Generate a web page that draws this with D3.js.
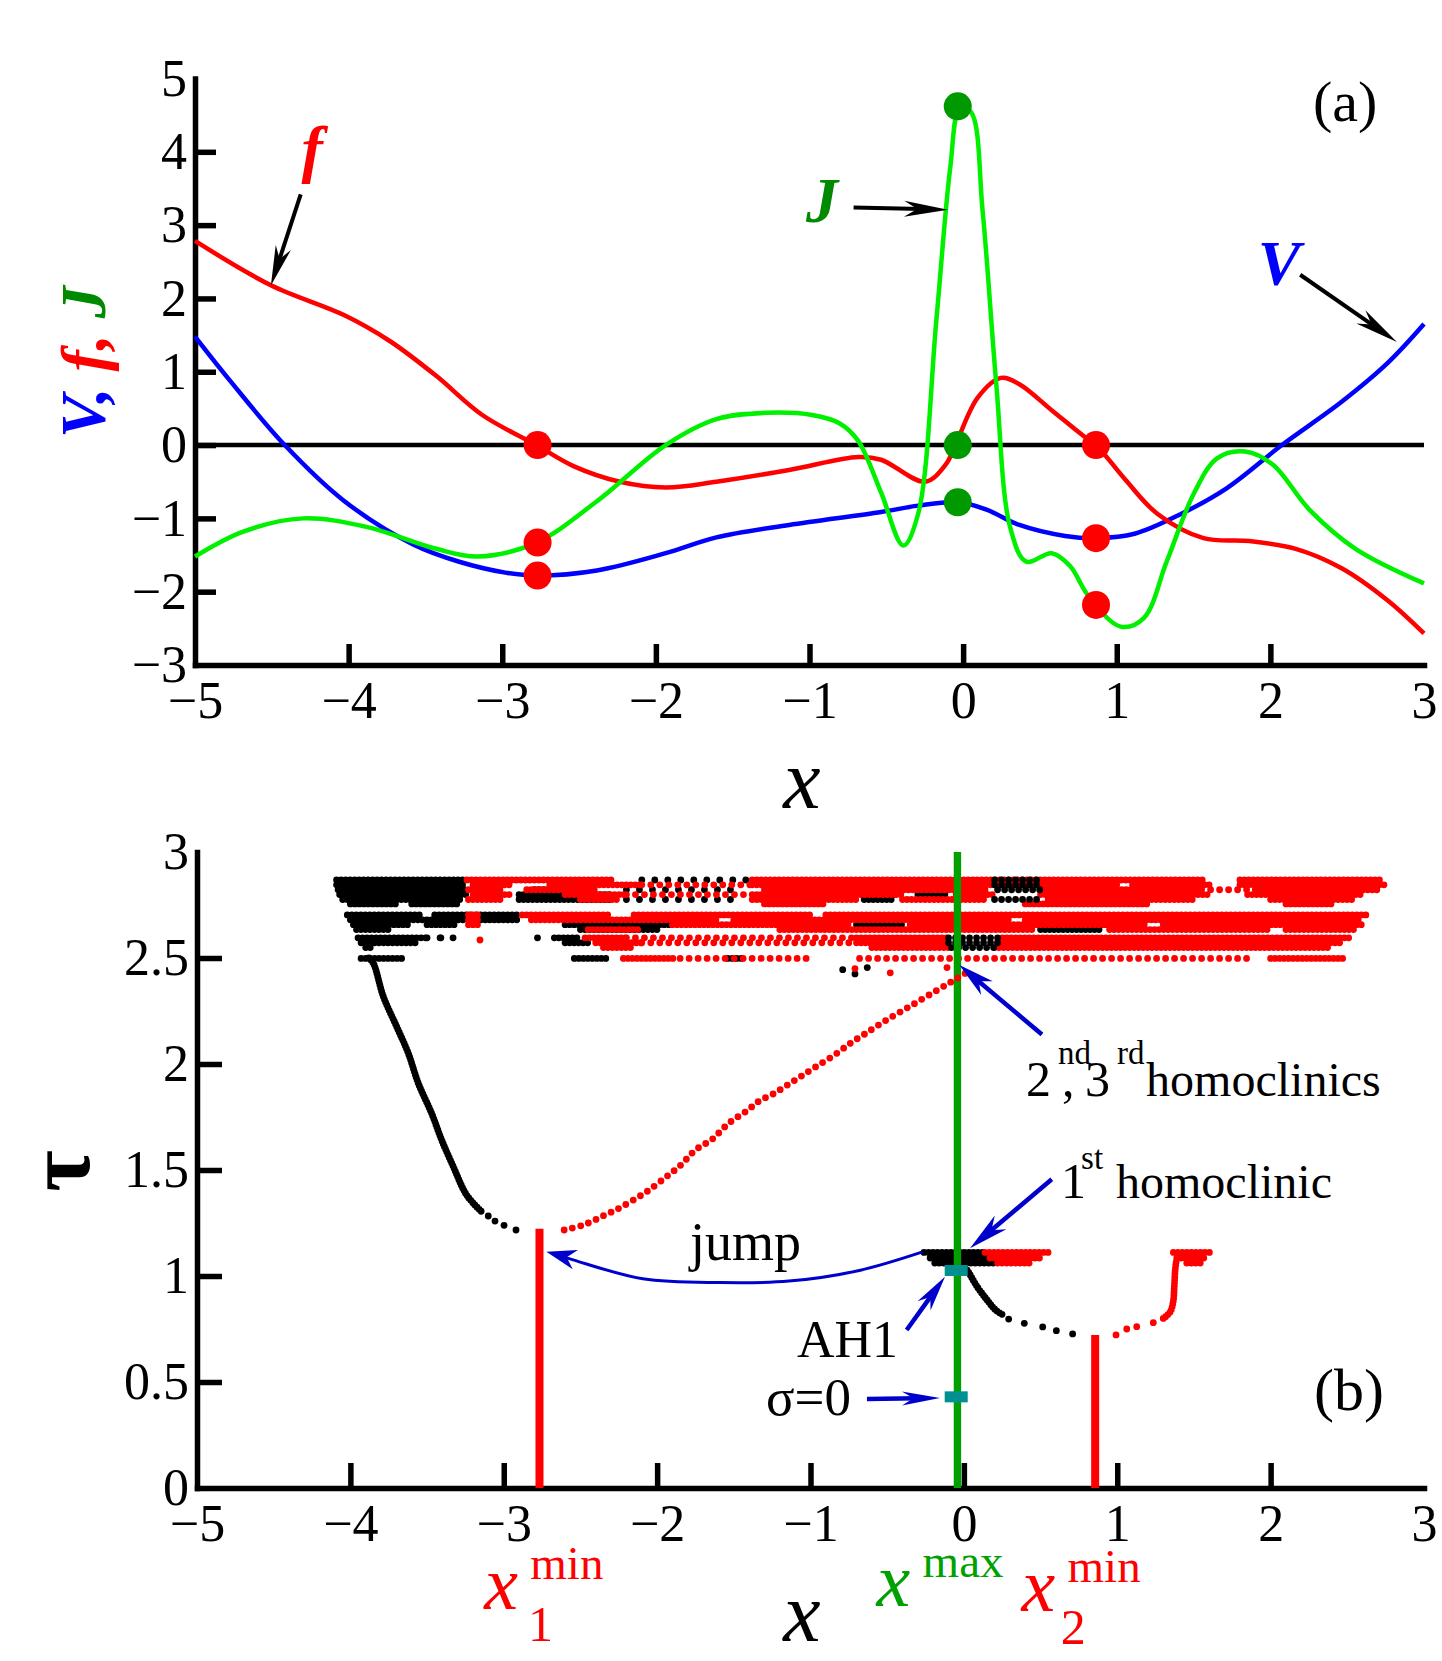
<!DOCTYPE html>
<html>
<head>
<meta charset="utf-8">
<script src="https://cdn.jsdelivr.net/npm/d3@7"></script>
<style>
  body { margin: 0; background: #fff; }
</style>
</head>
<body>
<div id="chart"></div>
<script>
const W = 1442, H = 1661;
const FONT = "'Liberation Serif', 'Times New Roman', serif";

// ---------- panel (a) data ----------
const xTicks = [-5, -4, -3, -2, -1, 0, 1, 2, 3];
const yTicksA = [-3, -2, -1, 0, 1, 2, 3, 4, 5];

const vCurve = [[-5,1.48],[-4.775,0.886],[-4.416,0],[-4.027,-0.766],[-3.58,-1.356],[-3.28,-1.592],
  [-2.98,-1.74],[-2.778,-1.78],[-2.384,-1.71],[-1.936,-1.475],[-1.606,-1.26],[-1.133,-1.09],
  [-0.534,-0.914],[-0.293,-0.826],[-0.035,-0.778],[0.156,-0.884],[0.366,-1.09],[0.664,-1.24],
  [0.87,-1.27],[1.116,-1.21],[1.415,-0.943],[1.715,-0.59],[2.075,0],[2.464,0.59],[2.764,1.12],[3.0,1.65]];

const fCurve = [[-5,2.785],[-4.506,2.18],[-4.027,1.77],[-3.73,1.416],[-3.43,0.944],[-3.13,0.41],
  [-2.778,0],[-2.533,-0.29],[-2.234,-0.5],[-1.936,-0.578],[-1.606,-0.5],[-1.133,-0.34],
  [-0.684,-0.163],[-0.534,-0.2],[-0.248,-0.5],[-0.113,-0.265],[-0.039,0.06],[0.096,0.65],
  [0.246,0.916],[0.366,0.83],[0.576,0.476],[0.786,0.12],[0.865,0],[1.055,-0.47],[1.266,-0.94],
  [1.565,-1.27],[1.865,-1.31],[2.165,-1.415],[2.464,-1.68],[2.764,-2.12],[3.0,-2.57]];

const jCurve = [[-5,-1.52],[-4.686,-1.18],[-4.297,-1.0],[-3.878,-1.12],[-3.43,-1.415],[-3.16,-1.52],
  [-2.778,-1.33],[-2.384,-0.766],[-1.936,0],[-1.606,0.354],[-1.28,0.44],[-0.983,0.41],
  [-0.803,0.295],[-0.684,0.06],[-0.534,-0.647],[-0.39,-1.37],[-0.293,-0.94],[-0.174,1.71],
  [-0.084,3.78],[-0.02,4.6],[0.052,4.54],[0.127,3.19],[0.216,0.827],[0.306,-1.12],[0.411,-1.59],
  [0.576,-1.475],[0.696,-1.65],[0.816,-2.06],[1.025,-2.476],[1.176,-2.36],[1.325,-1.59],
  [1.505,-0.647],[1.655,-0.177],[1.835,-0.087],[2.015,-0.265],[2.255,-0.884],[2.554,-1.415],[3.0,-1.887]];

const redMarkers = [[-2.77,0],[-2.77,-1.33],[-2.77,-1.78],[0.865,0],[0.865,-1.27],[0.865,-2.18]];
const greenMarkers = [[-0.035,4.62],[-0.035,0],[-0.035,-0.78]];

// ---------- panel (b) data ----------
const yTicksB = [0, 0.5, 1, 1.5, 2, 2.5, 3];

// continuous branches (x, tau)
const blackLeftBranch = [[-3.88,2.50],[-3.850,2.475],[-3.785,2.318],[-3.698,2.176],[-3.622,2.050],
  [-3.557,1.909],[-3.470,1.767],[-3.405,1.642],[-3.329,1.516],[-3.242,1.382],[-3.144,1.303]];
const blackLeftDots = [[-3.101,1.283],[-3.057,1.259],[-2.998,1.239],[-2.920,1.217]];
const redLeftBranch = [[-2.606,1.217],[-2.487,1.239],[-2.415,1.261],[-2.354,1.283],[-2.295,1.303],
  [-2.234,1.325],[-2.14,1.365],[-2.067,1.398],[-1.947,1.464],[-1.845,1.524],[-1.751,1.594],
  [-1.643,1.644],[-1.534,1.72],[-1.414,1.78],[-1.332,1.827],[-1.245,1.858],[-1.153,1.90],
  [-1.066,1.94],[-0.97,1.985],[-0.853,2.038],[-0.74,2.098],[-0.649,2.14],[-0.512,2.204],
  [-0.338,2.278],[-0.142,2.362],[-0.049,2.402],[0.053,2.447]];
const blackRightBranch = [[0.007,1.038],[0.021,1.028],[0.086,0.95],[0.151,0.887],[0.206,0.84],[0.249,0.819]];
const blackRightDots = [[0.292,0.797],[0.394,0.777],[0.514,0.76],[0.603,0.742],[0.709,0.727]];
const redRightDots = [[0.992,0.722],[1.062,0.75],[1.127,0.761],[1.235,0.78]];
const redRightBranch = [[1.30,0.80],[1.345,0.83],[1.365,0.88],[1.372,0.95],[1.378,1.03],[1.385,1.07]];

// horizontal runs of points [x0, x1, tau]
const blackBand = [
  [-4.09,-3.24,2.868],[-4.09,-3.24,2.845],[-4.08,-3.24,2.822],[-2.8,-2.6,2.822],
  [-4.07,-3.24,2.799],[-2.9,-2.3,2.799],[-0.3,-0.1,2.799],
  [-4.05,-3.26,2.776],[-2.9,-2.3,2.776],[-0.65,-0.45,2.776],
  [-4.0,-3.7,2.755],[-3.6,-3.3,2.755],
  [-4.02,-3.55,2.703],[-3.45,-3.21,2.703],[-3.18,-2.9,2.703],
  [-4.0,-3.25,2.680],[-3.15,-2.9,2.680],
  [-3.98,-3.6,2.657],[-3.5,-3.3,2.657],[-2.6,-1.9,2.657],[-0.7,-0.4,2.657],[0.8,1.0,2.657],
  [-3.96,-3.75,2.634],[-2.5,-2.0,2.634],[0.5,0.9,2.634],
  [-3.95,-3.5,2.595],[-2.67,-2.5,2.595],
  [-3.93,-3.55,2.572],[-2.6,-2.45,2.572],[-0.5,-0.3,2.572],
  [-3.9,-3.85,2.549],
  [-3.93,-3.64,2.498],[-2.54,-2.33,2.498],[-1.54,-1.44,2.498],
  [-0.26,0.13,1.111],[-0.22,0.17,1.085],[-0.19,0.22,1.061]];
const blackBandSparse = [[-2.1,-1.4,2.868],[-2.2,-1.5,2.822],[-2.2,-1.5,2.776],[-3.5,-3.3,2.595],
  [-0.63,-0.42,2.80]];
const redBand = [
  [-3.24,-2.3,2.868],[-1.38,1.57,2.868],[1.8,2.71,2.868],
  [-3.2,-2.95,2.845],[-2.7,-2.1,2.845],[-1.38,1.0,2.845],[1.1,1.6,2.845],[1.8,2.76,2.845],
  [-3.23,-3.0,2.822],[-2.85,-2.4,2.822],[-1.3,0.15,2.822],[0.5,1.55,2.822],[1.9,2.7,2.822],
  [-3.2,-2.95,2.799],[-2.6,-2.2,2.799],[-1.38,-0.4,2.799],[-0.05,0.2,2.799],[0.5,1.6,2.799],[1.85,2.6,2.799],
  [-3.23,-3.0,2.776],[-2.5,-2.25,2.776],[-1.38,-0.7,2.776],[-0.4,0.15,2.776],[0.55,1.5,2.776],[2.0,2.55,2.776],
  [-1.3,-0.9,2.755],[0.4,1.2,2.755],[2.1,2.4,2.755],
  [-3.23,-3.17,2.703],[-2.88,-2.3,2.703],[-2.15,-1.0,2.703],[-0.9,2.645,2.703],
  [-3.23,-3.17,2.680],[-2.82,-1.6,2.680],[-1.5,0.3,2.680],[0.4,2.6,2.680],
  [-3.23,-3.17,2.657],[-1.9,-0.75,2.657],[-0.35,1.2,2.657],[1.3,2.62,2.657],
  [-2.45,-2.1,2.634],[-1.2,0.45,2.634],[0.95,2.0,2.634],[2.1,2.55,2.634],
  [-2.47,-2.2,2.595],[-0.7,-0.1,2.595],[0.25,2.51,2.595],
  [-2.4,-2.1,2.572],[-0.7,-0.1,2.572],[0.22,2.45,2.572],
  [-2.35,-2.15,2.549],[-0.6,-0.1,2.549],[0.2,2.4,2.549],
  [-2.22,-1.89,2.498],[2.0,2.47,2.498],
  [0.138,0.572,1.111],[0.17,0.496,1.085],[0.22,0.45,1.061],
  [1.366,1.626,1.111],[1.388,1.572,1.085],[1.453,1.56,1.061]];
const redBandSparse = [[-2.1,-1.38,2.845],[-2.2,-1.38,2.799],[1.55,1.9,2.822],[-2.2,-0.7,2.595],
  [-2.1,-0.7,2.572],[-1.85,-1.0,2.498],[-0.68,1.85,2.498]];
const blackBandTop = [[0.2,0.5,2.868],[0.2,0.48,2.845],[0.22,0.5,2.822],[0.2,0.5,2.776],
  [-0.1,0.25,2.595],[-0.1,0.22,2.572],[-0.08,0.2,2.549]];
const blackSpots = [[-0.79,2.445],[-0.71,2.425],[-0.63,2.455],[-2.78,2.595],[-3.41,2.595]];
const redSpots = [[-0.71,2.45],[-0.48,2.43],[-0.11,2.455],[-3.155,2.585]];

const xMaxLine = -0.042, x1Min = -2.767, x2Min = 0.856;
const x1MinTop = 1.223, x2MinTop = 0.722;
const ah1Point = [-0.05, 1.026], sigmaZeroPoint = [-0.05, 0.43];

// ---------- scales ----------
const xA = d3.scaleLinear().domain([-5, 3]).range([195, 1424]);
const yA = d3.scaleLinear().domain([-3, 5]).range([665, 78.5]);
const xB = d3.scaleLinear().domain([-5, 3]).range([197, 1424]);
const yB = d3.scaleLinear().domain([0, 3]).range([1488, 852]);

const svg = d3.select('#chart').append('svg')
  .attr('width', W).attr('height', H)
  .style('display', 'block').style('background', '#fff');

function drawAxes(xs, ys, yTicks, yFmt, tickLen) {
  let gx = svg.append('g')
    .attr('transform', `translate(0,${ys.range()[0]})`)
    .call(d3.axisBottom(xs).tickValues(xTicks).tickFormat(d3.format('d'))
      .tickSizeInner(-tickLen).tickSizeOuter(0).tickPadding(16));
  let gy = svg.append('g')
    .attr('transform', `translate(${xs.range()[0]},0)`)
    .call(d3.axisLeft(ys).tickValues(yTicks).tickFormat(yFmt)
      .tickSizeInner(-tickLen).tickSizeOuter(0).tickPadding(8));
  [gx, gy].forEach(g => {
    g.attr('font-family', FONT).attr('font-size', 52);
    g.select('.domain').attr('stroke-width', 5.5).attr('stroke-linecap', 'square');
    g.selectAll('.tick line').attr('stroke-width', 5.5);
    g.selectAll('.tick text').attr('fill', '#000');
  });
  gx.selectAll('.tick line').filter(d => d === xs.domain()[0] || d === xs.domain()[1]).remove();
  gy.selectAll('.tick line').filter(d => d === ys.domain()[0] || d === ys.domain()[1]).remove();
}

function arrow(g, x1, y1, x2, y2, color, headLen, halfW, width) {
  let dx = x2 - x1, dy = y2 - y1;
  let len = Math.sqrt(dx*dx + dy*dy);
  let ux = dx/len, uy = dy/len;
  let nx = -uy, ny = ux;
  g.append('line')
    .attr('x1', x1).attr('y1', y1)
    .attr('x2', x2 - ux*headLen*0.6).attr('y2', y2 - uy*headLen*0.6)
    .attr('stroke', color).attr('stroke-width', width);
  let pts = [
    [x2, y2],
    [x2 - ux*headLen + nx*halfW, y2 - uy*headLen + ny*halfW],
    [x2 - ux*headLen*0.7, y2 - uy*headLen*0.7],
    [x2 - ux*headLen - nx*halfW, y2 - uy*headLen - ny*halfW]
  ];
  g.append('polygon').attr('points', pts.map(p => p.join(',')).join(' ')).attr('fill', color);
}

// one <text> with absolutely placed pieces (for super/subscripts)
function richText(g, parts, color) {
  let t = g.append('text').attr('font-family', FONT).attr('fill', color || '#000');
  parts.forEach(p => {
    let s = t.append('tspan').attr('x', p.x).attr('y', p.y)
      .attr('font-size', p.size).text(p.t);
    if (p.italic) s.attr('font-style', 'italic');
    if (p.color) s.attr('fill', p.color);
  });
  return t;
}

// ================= panel (a) =================
drawAxes(xA, yA, yTicksA, d3.format('d'), 21);

const gA = svg.append('g');
gA.append('line')
  .attr('x1', xA(-5)).attr('x2', xA(3))
  .attr('y1', yA(0)).attr('y2', yA(0))
  .attr('stroke', '#000').attr('stroke-width', 4.5);

const lineA = d3.line().x(d => xA(d[0])).y(d => yA(d[1])).curve(d3.curveCatmullRom.alpha(0.5));
[[vCurve, '#0000ff'], [fCurve, '#ff0000'], [jCurve, '#00f000']].forEach(([data, color]) => {
  gA.append('path').attr('d', lineA(data))
    .attr('fill', 'none').attr('stroke', color).attr('stroke-width', 4.5);
});

gA.selectAll('circle.red').data(redMarkers).join('circle')
  .attr('class', 'red').attr('cx', d => xA(d[0])).attr('cy', d => yA(d[1]))
  .attr('r', 14).attr('fill', '#ff0000');
gA.selectAll('circle.green').data(greenMarkers).join('circle')
  .attr('class', 'green').attr('cx', d => xA(d[0])).attr('cy', d => yA(d[1]))
  .attr('r', 14).attr('fill', '#009a00');

// annotations (a)
arrow(gA, xA(-4.312), yA(3.418), xA(-4.506), yA(2.176), '#000', 40, 8, 4);
arrow(gA, xA(-0.713), yA(3.241), xA(-0.098), yA(3.211), '#000', 44, 8, 4);
arrow(gA, xA(2.194), yA(2.323), xA(2.824), yA(1.406), '#000', 44, 8, 4);

const letter = (g, txt, x, y, color, size) => g.append('text')
  .attr('x', x).attr('y', y).attr('text-anchor', 'middle')
  .attr('font-family', FONT).attr('font-size', size)
  .attr('font-weight', 'bold').attr('font-style', 'italic')
  .attr('fill', color).text(txt);
letter(gA, 'f', xA(-4.238), yA(3.751), '#ff0000', 64);
letter(gA, 'J', xA(-0.918), yA(3.042), '#008a00', 64);
letter(gA, 'V', xA(2.057), yA(2.183), '#0000ff', 64);

gA.append('text').attr('x', xA(2.487)).attr('y', yA(4.42)).attr('text-anchor', 'middle')
  .attr('font-family', FONT).attr('font-size', 58).text('(a)');

// axis titles (a)
gA.append('text').attr('x', 802).attr('y', 808).attr('text-anchor', 'middle')
  .attr('font-family', FONT).attr('font-size', 84).attr('font-style', 'italic').text('x');

const yLab = gA.append('text')
  .attr('transform', 'translate(105,362) rotate(-90)')
  .attr('text-anchor', 'middle')
  .attr('font-family', FONT).attr('font-size', 64)
  .attr('font-weight', 'bold').attr('font-style', 'italic');
yLab.append('tspan').attr('fill', '#0000ff').text('V,');
yLab.append('tspan').attr('fill', '#ff0000').text(' f,');
yLab.append('tspan').attr('fill', '#008a00').text(' J');

// ================= panel (b) =================
drawAxes(xB, yB, yTicksB, d3.format('~g'), 25);

const gB = svg.append('g');
const lineB = d3.line().x(d => xB(d[0])).y(d => yB(d[1])).curve(d3.curveCatmullRom.alpha(0.5));
const DOT = 6.8;

function runs(data, color, dash) {
  gB.append('g').selectAll('line').data(data).join('line')
    .attr('x1', d => xB(d[0])).attr('x2', d => xB(d[1]))
    .attr('y1', d => yB(d[2])).attr('y2', d => yB(d[2]))
    .attr('stroke', color).attr('stroke-width', DOT)
    .attr('stroke-linecap', 'round').attr('stroke-dasharray', dash);
}
function dots(data, color) {
  gB.append('g').selectAll('circle').data(data).join('circle')
    .attr('cx', d => xB(d[0])).attr('cy', d => yB(d[1]))
    .attr('r', DOT/2).attr('fill', color);
}
function branch(data, color, dash) {
  gB.append('path').attr('d', lineB(data))
    .attr('fill', 'none').attr('stroke', color).attr('stroke-width', DOT)
    .attr('stroke-linecap', 'round').attr('stroke-dasharray', dash);
}

runs(blackBand, '#000', '0 4.5');
runs(blackBandSparse, '#000', '0 13');
runs(redBand, '#ff0000', '0 4.5');
runs(redBandSparse, '#ff0000', '0 9');
runs(blackBandTop, '#000', '0 7');
dots(blackSpots, '#000');
dots(redSpots, '#ff0000');

// vertical x_max line
gB.append('line')
  .attr('x1', xB(xMaxLine)).attr('x2', xB(xMaxLine))
  .attr('y1', yB(0)).attr('y2', yB(3))
  .attr('stroke', '#00a000').attr('stroke-width', 7.4);

branch(blackLeftBranch, '#000', '0 3');
dots(blackLeftDots, '#000');
branch(redLeftBranch, '#ff0000', '0 8.4');
branch(blackRightBranch, '#000', '0 3');
dots(blackRightDots, '#000');
dots(redRightDots, '#ff0000');
branch(redRightBranch, '#ff0000', '0 3');

// minima lines
[[x1Min, x1MinTop], [x2Min, x2MinTop]].forEach(([x, top]) => {
  gB.append('line')
    .attr('x1', xB(x)).attr('x2', xB(x))
    .attr('y1', yB(0)).attr('y2', yB(top))
    .attr('stroke', '#ff0000').attr('stroke-width', 8);
});

// AH1 and sigma=0 markers
[ah1Point, sigmaZeroPoint].forEach(p => {
  gB.append('rect')
    .attr('x', xB(p[0]) - 11.5).attr('y', yB(p[1]) - 5.5)
    .attr('width', 23).attr('height', 11)
    .attr('fill', '#009090');
});

// annotations (b)
const BLUE = '#0000cc';
const jumpPath = [[-0.269,1.114],[-0.690,1.025],[-1.140,0.976],[-1.590,0.969],[-2.093,0.987],[-2.542,1.075],[-2.65,1.10]];
gB.append('path').attr('d', lineB(jumpPath))
  .attr('fill', 'none').attr('stroke', BLUE).attr('stroke-width', 3);
arrow(gB, xB(-2.6), yB(1.09), xB(-2.722), yB(1.114), BLUE, 30, 10, 3);

arrow(gB, xB(0.509), yB(2.139), xB(-0.029), yB(2.467), BLUE, 36, 9, 4.5);
arrow(gB, xB(0.573), yB(1.456), xB(0.040), yB(1.131), BLUE, 40, 9, 4.5);
arrow(gB, xB(-0.373), yB(0.745), xB(-0.123), yB(0.997), BLUE, 36, 8, 4.5);
arrow(gB, xB(-0.632), yB(0.42), xB(-0.156), yB(0.425), BLUE, 38, 7, 4.5);

richText(gB, [
  {t: '2', x: xB(0.405), y: yB(1.849), size: 50},
  {t: 'nd', x: xB(0.614), y: yB(2.0), size: 33},
  {t: ',', x: xB(0.640), y: yB(1.849), size: 50},
  {t: '3', x: xB(0.790), y: yB(1.849), size: 50},
  {t: 'rd', x: xB(0.998), y: yB(2.0), size: 33},
  {t: 'homoclinics', x: xB(1.188), y: yB(1.849), size: 48}
]);
richText(gB, [
  {t: '1', x: xB(0.633), y: yB(1.368), size: 50},
  {t: 'st', x: xB(0.764), y: yB(1.506), size: 33},
  {t: 'homoclinic', x: xB(0.992), y: yB(1.368), size: 48}
]);
richText(gB, [{t: 'jump', x: xB(-1.786), y: yB(1.075), size: 54}]);
richText(gB, [{t: 'AH1', x: xB(-1.088), y: yB(0.620), size: 52}]);
richText(gB, [{t: '\u03c3=0', x: xB(-1.290), y: yB(0.342), size: 53}]);
richText(gB, [{t: '(b)', x: xB(2.283), y: yB(0.368), size: 60}]);

// axis titles (b)
const axisY = yB(0);
gB.append('text').attr('x', 802).attr('y', axisY + 153).attr('text-anchor', 'middle')
  .attr('font-family', FONT).attr('font-size', 84).attr('font-style', 'italic').text('x');
richText(gB, [
  {t: 'x', x: xB(-3.127), y: axisY + 120.6, size: 76, italic: true},
  {t: 'min', x: xB(-2.827), y: axisY + 91, size: 47},
  {t: '1', x: xB(-2.842), y: axisY + 153, size: 50}
], '#ff0000');
richText(gB, [
  {t: 'x', x: xB(-0.570), y: axisY + 118, size: 76, italic: true},
  {t: 'max', x: xB(-0.269), y: axisY + 88.5, size: 47}
], '#00a000');
richText(gB, [
  {t: 'x', x: xB(0.376), y: axisY + 123, size: 76, italic: true},
  {t: 'min', x: xB(0.676), y: axisY + 94, size: 47},
  {t: '2', x: xB(0.631), y: axisY + 155.5, size: 50}
], '#ff0000');

gB.append('text')
  .attr('transform', 'translate(89,1171) rotate(-90)')
  .attr('text-anchor', 'middle')
  .attr('font-family', FONT).attr('font-size', 90).attr('font-weight', 'bold')
  .text('\u03c4');
</script>
</body>
</html>
